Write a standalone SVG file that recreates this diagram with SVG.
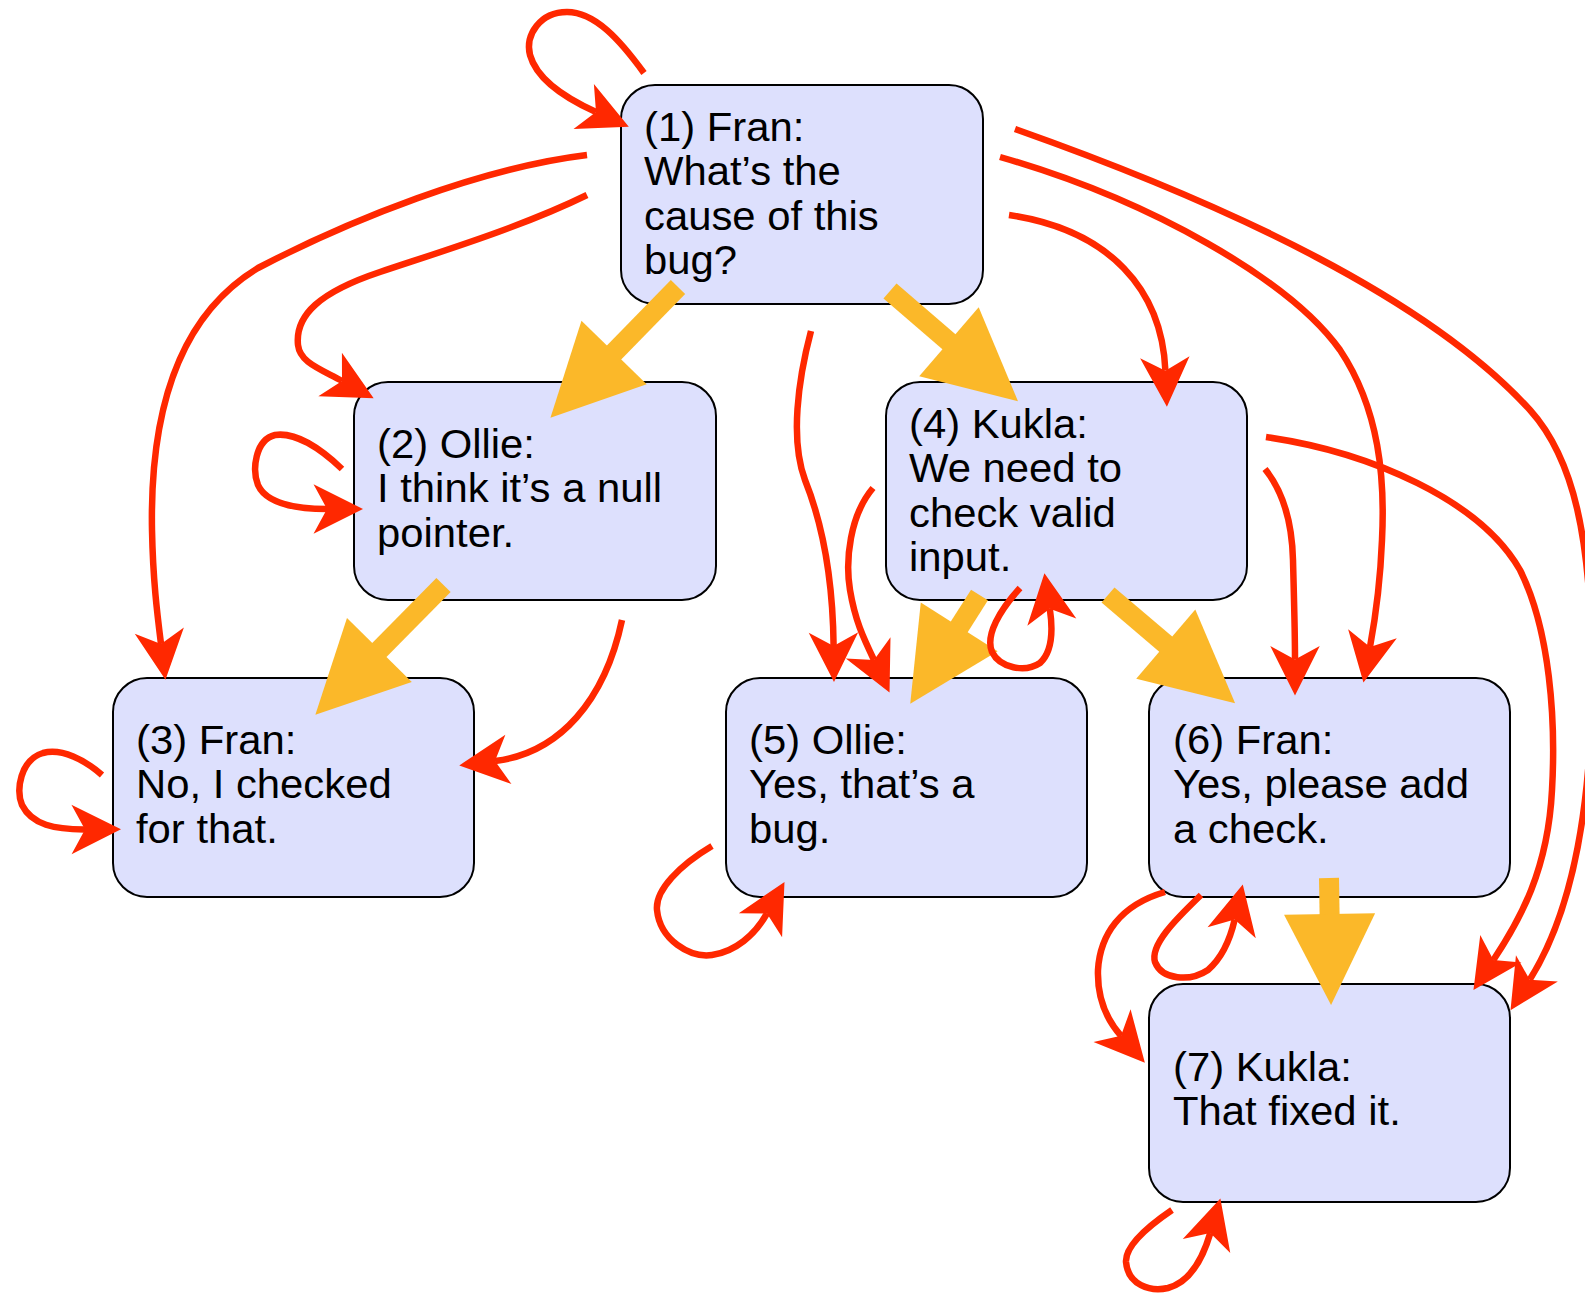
<svg xmlns="http://www.w3.org/2000/svg" width="1585" height="1293" viewBox="0 0 1585 1293">
<style>
.node rect{fill:#dde0fd;stroke:#000;stroke-width:2}
.node text{font-family:"Liberation Sans",Arial,sans-serif;font-size:41px;fill:#000}
.red{fill:none;stroke:#ff2800;stroke-width:6.5;marker-end:url(#ra)}
.yel{fill:none;stroke:#fbb829;stroke-width:20;marker-end:url(#ya)}
</style>
<defs>
<marker id="ra" markerUnits="userSpaceOnUse" orient="auto" refX="0" refY="0" markerWidth="60" markerHeight="60" viewBox="-12 -20 40 40" overflow="visible">
<path d="M24,0 L-9,-16.5 L0,0 L-9,16.5 Z" fill="#ff2800"/>
</marker>
<marker id="ya" markerUnits="userSpaceOnUse" orient="auto" refX="1" refY="0" markerWidth="100" markerHeight="100" viewBox="-2 -45 90 90" overflow="visible">
<path d="M0,-41 L82,0 L0,41 Z" fill="#fbb829"/>
</marker>
</defs>
<g id="n1" class="node"><rect x="621" y="85" width="362" height="219" rx="34"/>
<text transform="translate(644,141) scale(1.02,1)"><tspan x="0" y="0">(1) Fran:</tspan><tspan x="0" y="44.3">What’s the</tspan><tspan x="0" y="88.6">cause of this</tspan><tspan x="0" y="132.9">bug?</tspan></text></g>
<g id="n2" class="node"><rect x="354" y="382" width="362" height="218" rx="34"/>
<text transform="translate(377,458) scale(1.02,1)"><tspan x="0" y="0">(2) Ollie:</tspan><tspan x="0" y="44.3">I think it’s a null</tspan><tspan x="0" y="88.6">pointer.</tspan></text></g>
<g id="n3" class="node"><rect x="113" y="678" width="361" height="219" rx="34"/>
<text transform="translate(136,754) scale(1.02,1)"><tspan x="0" y="0">(3) Fran:</tspan><tspan x="0" y="44.3">No, I checked</tspan><tspan x="0" y="88.6">for that.</tspan></text></g>
<g id="n4" class="node"><rect x="886" y="382" width="361" height="218" rx="34"/>
<text transform="translate(909,438) scale(1.02,1)"><tspan x="0" y="0">(4) Kukla:</tspan><tspan x="0" y="44.3">We need to</tspan><tspan x="0" y="88.6">check valid</tspan><tspan x="0" y="132.9">input.</tspan></text></g>
<g id="n5" class="node"><rect x="726" y="678" width="361" height="219" rx="34"/>
<text transform="translate(749,754) scale(1.02,1)"><tspan x="0" y="0">(5) Ollie:</tspan><tspan x="0" y="44.3">Yes, that’s a</tspan><tspan x="0" y="88.6">bug.</tspan></text></g>
<g id="n6" class="node"><rect x="1149" y="678" width="361" height="219" rx="34"/>
<text transform="translate(1173,754) scale(1.02,1)"><tspan x="0" y="0">(6) Fran:</tspan><tspan x="0" y="44.3">Yes, please add</tspan><tspan x="0" y="88.6">a check.</tspan></text></g>
<g id="n7" class="node"><rect x="1149" y="984" width="361" height="218" rx="34"/>
<text transform="translate(1173,1081) scale(1.02,1)"><tspan x="0" y="0">(7) Kukla:</tspan><tspan x="0" y="44.3">That fixed it.</tspan></text></g>
<g id="connectors">
<path class="yel" d="M678,287 L613.3,353.3"/>
<path class="yel" d="M890,291 L949.8,342.5"/>
<path class="yel" d="M443.5,585 L378.6,650.7"/>
<path class="yel" d="M979.5,595 L958.6,627.8"/>
<path class="yel" d="M1108,595 L1166.6,644.9"/>
<path class="yel" d="M1329,878 L1329.6,915"/>
<path class="red" d="M644,73 C620,40 595,12 567,12 C540,12 525,35 530,55 C537,80 565,98 596,112"/>
<path class="red" d="M587,155 C480,168 350,220 258,268 C175,318 150,420 152,530 C153,580 157,612 161,644"/>
<path class="red" d="M587,195 C520,228 430,255 380,272 C320,292 295,315 298,345 C300,362 318,368 342,381"/>
<path class="red" d="M342,469 C320,448 295,432 275,435 C255,440 252,470 258,485 C266,503 295,509 327,509"/>
<path class="red" d="M622,620 C605,700 560,753 495,761"/>
<path class="red" d="M811,331 C798,380 790,440 805,480 C825,530 833,590 833.6,646"/>
<path class="red" d="M873,488 C850,515 845,560 850,590 C855,620 863,637 874,660"/>
<path class="red" d="M1020,588 C1000,610 985,635 992,652 C1000,668 1025,673 1040,663 C1052,652 1053,630 1049.8,608.8"/>
<path class="red" d="M1009,215 C1110,230 1162,290 1165.4,370.7"/>
<path class="red" d="M1000,157 C1150,200 1290,280 1340,350 C1380,410 1385,480 1382,540 C1380,590 1375,620 1370,647"/>
<path class="red" d="M1015,129 C1230,205 1430,300 1530,410 C1575,460 1590,540 1592,660 C1593,780 1580,900 1529.7,979.8"/>
<path class="red" d="M1266,437 C1370,452 1480,500 1520,570 C1550,630 1556,720 1552,790 C1548,870 1520,920 1493.4,960"/>
<path class="red" d="M1265,469 C1282,490 1292,520 1293,560 C1294,600 1295,630 1295,659.6"/>
<path class="red" d="M712,846 C680,865 655,890 657,910 C660,940 690,958 712,955 C735,952 755,935 767,913.4"/>
<path class="red" d="M1165,892 C1120,905 1100,935 1098,970 C1097,1000 1107,1020 1121,1035.8"/>
<path class="red" d="M1201,895 C1175,920 1150,945 1155,962 C1162,980 1190,982 1208,970 C1222,958 1230,940 1234.7,919.6"/>
<path class="red" d="M1172,1210 C1150,1225 1125,1245 1126,1262 C1128,1285 1150,1292 1168,1288 C1190,1282 1203,1258 1210.3,1233"/>
<path class="red" d="M102,775 C85,760 62,748 43,753 C20,760 16,790 22,805 C32,825 55,829.5 85,829.4"/>
</g>
</svg>
